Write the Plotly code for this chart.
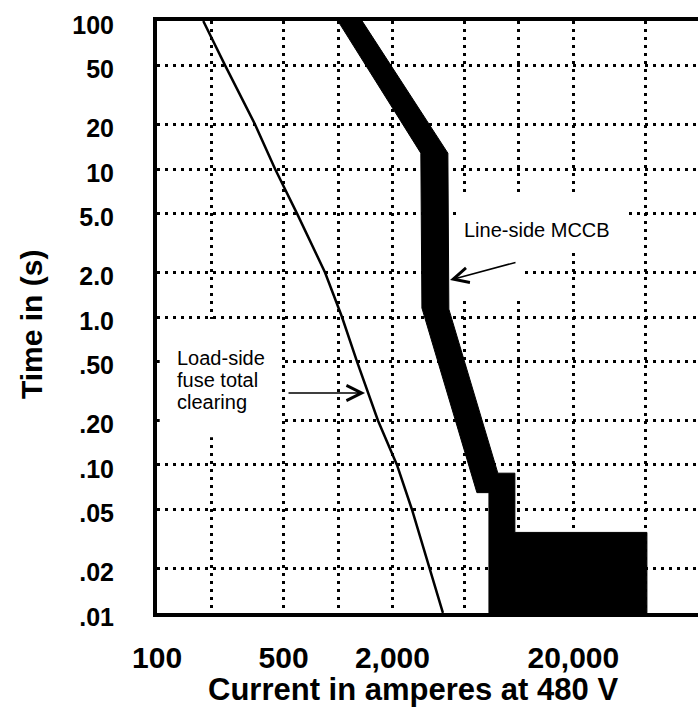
import math
import plotly.graph_objects as go

FONT = "Liberation Sans, Arial, Helvetica, sans-serif"

# Load-side fuse, total clearing curve (A, s)
fuse_current = [180, 238, 348, 449, 594, 848, 1052, 1274, 1663, 2118, 2563, 3223, 3802]
fuse_time = [100, 50, 20, 10, 5, 2, 1, 0.5, 0.2, 0.1, 0.05, 0.02, 0.01]

# Line-side MCCB band, outline of the filled region (A, s)
mccb_current = [1000, 1360, 4050, 4100, 7650, 9500, 9500, 51000, 51000, 6830, 6830, 5860, 2910, 2870, 1000]
mccb_time = [100, 100, 12.8, 1.13, 0.088, 0.088, 0.035, 0.035, 0.01, 0.01, 0.065, 0.065, 1.15, 12.8, 100]

# axes
x_grid = [100, 200, 500, 1000, 2000, 5000, 10000, 20000, 50000]
x_labels = ["100", "", "500", "", "2,000", "", "", "20,000", ""]
y_grid = [100, 50, 20, 10, 5, 2, 1, 0.5, 0.2, 0.1, 0.05, 0.02, 0.01]
y_labels = ["100", "50", "20", "10", "5.0", "2.0", "1.0", ".50", ".20", ".10", ".05", ".02", ".01"]

fig = go.Figure()

fig.add_trace(go.Scatter(
    x=mccb_current, y=mccb_time,
    mode="lines", fill="toself", fillcolor="black",
    line=dict(color="black", width=1),
    hoverinfo="skip",
))

fig.add_trace(go.Scatter(
    x=fuse_current, y=fuse_time,
    mode="lines",
    line=dict(color="black", width=2.5),
    hoverinfo="skip",
))

# white areas behind the labels (the dotted grid is broken there);
# they don't touch any curve, so they can sit on top
for x0, x1, y0, y1 in [(0.560, 0.869, 0.610, 0.710),
                       (0.5435, 0.6765, 0.534, 0.610),
                       (0.005, 0.2274, 0.297, 0.4966)]:
    fig.add_shape(type="rect", xref="paper", yref="paper",
                  x0=x0, x1=x1, y0=y0, y1=y1,
                  fillcolor="white", line=dict(width=0), layer="above")

label_font = dict(family=FONT, size=20, color="black")

fig.add_annotation(x=0.5638, y=0.647, xref="paper", yref="paper",
                   text="Line-side MCCB", showarrow=False,
                   xanchor="left", yanchor="middle", font=label_font)
fig.add_annotation(x=0.5416, y=0.5625, xref="paper", yref="paper",
                   text="", showarrow=True, ax=67, ay=-18,
                   arrowhead=5, arrowsize=2, arrowwidth=1.5,
                   arrowcolor="black", standoff=0)

for txt, yy in [("Load-side", 0.4307), ("fuse total", 0.3936), ("clearing", 0.3564)]:
    fig.add_annotation(x=0.0333, y=yy, xref="paper", yref="paper",
                       text=txt, showarrow=False,
                       xanchor="left", yanchor="middle", font=label_font)
fig.add_annotation(x=0.3845, y=0.3716, xref="paper", yref="paper",
                   text="", showarrow=True, ax=-78, ay=0,
                   arrowhead=5, arrowsize=2, arrowwidth=1.5,
                   arrowcolor="black", standoff=0)

fig.add_annotation(x=0.473, y=-0.130, xref="paper", yref="paper",
                   text="Current in amperes at 480 V", showarrow=False,
                   xanchor="center", yanchor="middle",
                   font=dict(family=FONT, size=31, color="black", weight="bold"))
fig.add_annotation(x=-0.233, y=0.488, xref="paper", yref="paper",
                   text="Time in (s)", showarrow=False, textangle=-90,
                   xanchor="center", yanchor="middle",
                   font=dict(family=FONT, size=30, color="black", weight="bold"))

grid_style = dict(showgrid=True, gridcolor="black", gridwidth=3, griddash="3px,5px")

fig.update_xaxes(
    type="log", range=[math.log10(100) - 0.0005, 4.99],
    tickmode="array", tickvals=x_grid, ticktext=x_labels,
    ticks="", ticklabelstandoff=15,
    tickfont=dict(family=FONT, size=30, color="black", weight="bold"),
    showline=True, linecolor="black", linewidth=4, mirror=True,
    zeroline=False, **grid_style,
)
fig.update_yaxes(
    type="log", range=[-2.0005, 2.0005],
    tickmode="array", tickvals=y_grid, ticktext=y_labels,
    ticks="", ticklabelstandoff=34, ticklabelshift=4,
    tickfont=dict(family=FONT, size=25, color="black", weight="bold"),
    showline=True, linecolor="black", linewidth=4, mirror=False,
    zeroline=False, **grid_style,
)

fig.update_layout(
    width=698, height=708,
    margin=dict(l=157, r=0, t=21, b=95),
    paper_bgcolor="white", plot_bgcolor="white",
    showlegend=False,
    font=dict(family=FONT, color="black"),
)

fig.write_html("out.html", config={"displayModeBar": False},
               post_script="document.body.style.margin='0';")
